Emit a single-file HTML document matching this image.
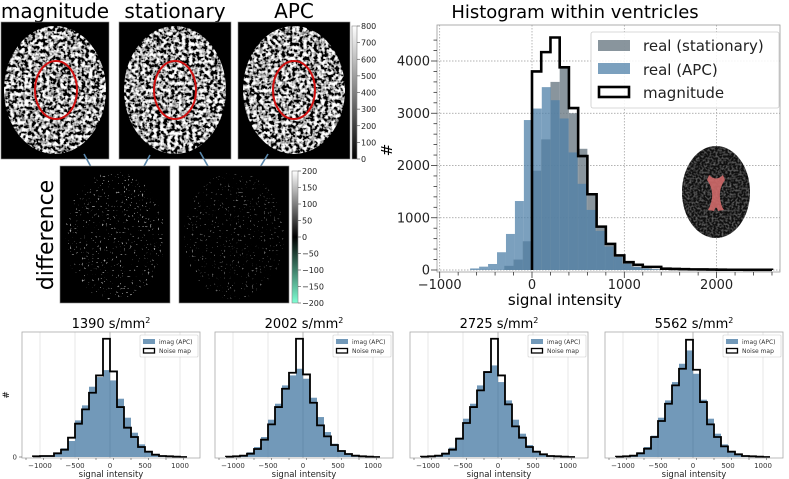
<!DOCTYPE html>
<html><head><meta charset="utf-8"><style>
html,body{margin:0;padding:0;background:#fff;}
svg{display:block;font-family:"DejaVu Sans","Liberation Sans",sans-serif;}
</style></head><body>
<svg id="fig" width="789" height="479" viewBox="0 0 789 479" xmlns="http://www.w3.org/2000/svg">
<defs>
<filter id="brainTex" x="0" y="0" width="100%" height="100%">
<feTurbulence type="fractalNoise" baseFrequency="0.28" numOctaves="2" seed="3"/>
<feColorMatrix type="matrix" values="0.33 0.33 0.33 0 0  0.33 0.33 0.33 0 0  0.33 0.33 0.33 0 0  0 0 0 0 1"/>
<feComponentTransfer><feFuncR type="linear" slope="7" intercept="-3.1"/><feFuncG type="linear" slope="7" intercept="-3.1"/><feFuncB type="linear" slope="7" intercept="-3.1"/></feComponentTransfer>
</filter>
<filter id="insetTex" x="0" y="0" width="100%" height="100%">
<feTurbulence type="fractalNoise" baseFrequency="0.5" numOctaves="1" seed="5"/>
<feColorMatrix type="matrix" values="0.33 0.33 0.33 0 0  0.33 0.33 0.33 0 0  0.33 0.33 0.33 0 0  0 0 0 0 1"/>
<feComponentTransfer><feFuncR type="linear" slope="4" intercept="-1.9"/><feFuncG type="linear" slope="4" intercept="-1.9"/><feFuncB type="linear" slope="4" intercept="-1.9"/></feComponentTransfer>
</filter>
<filter id="diffTex" x="0" y="0" width="100%" height="100%">
<feTurbulence type="fractalNoise" baseFrequency="0.5" numOctaves="1" seed="7"/>
<feColorMatrix type="matrix" values="0.33 0.33 0.33 0 0  0.33 0.33 0.33 0 0  0.33 0.33 0.33 0 0  0 0 0 0 1"/>
<feComponentTransfer><feFuncR type="linear" slope="6" intercept="-3.5"/><feFuncG type="linear" slope="6" intercept="-3.5"/><feFuncB type="linear" slope="6" intercept="-3.5"/></feComponentTransfer>
</filter>
<linearGradient id="cbGray" x1="0" y1="1" x2="0" y2="0"><stop offset="0" stop-color="#000"/><stop offset="1" stop-color="#fff"/></linearGradient>
<linearGradient id="cbDiff" x1="0" y1="1" x2="0" y2="0"><stop offset="0" stop-color="#7fffd4"/><stop offset="0.5" stop-color="#000"/><stop offset="1" stop-color="#fff"/></linearGradient>
<clipPath id="cB1"><ellipse cx="55" cy="90" rx="51" ry="64"/></clipPath>
<clipPath id="cB2"><ellipse cx="175" cy="90" rx="51" ry="64"/></clipPath>
<clipPath id="cB3"><ellipse cx="294" cy="90" rx="51" ry="64"/></clipPath>
<clipPath id="cD1"><ellipse cx="115" cy="236" rx="50" ry="64"/></clipPath>
<clipPath id="cD2"><ellipse cx="234" cy="236" rx="50" ry="64"/></clipPath>
<clipPath id="cIn"><ellipse cx="716" cy="192" rx="34" ry="46"/></clipPath>
</defs>

<g font-size="20" text-anchor="middle" fill="#000">
<text x="55" y="18">magnitude</text>
<text x="175" y="18">stationary</text>
<text x="294" y="18">APC</text>
</g>
<g>
<rect x="1" y="22" width="108" height="137" fill="#000" stroke="#888" stroke-width="0.6"/>
<rect x="1" y="22" width="108" height="137" filter="url(#brainTex)" clip-path="url(#cB1)"/>
<ellipse cx="56" cy="90" rx="21" ry="29" fill="none" stroke="#d01010" stroke-width="2"/>
</g>
<g>
<rect x="119" y="22" width="112" height="137" fill="#000" stroke="#888" stroke-width="0.6"/>
<rect x="119" y="22" width="112" height="137" filter="url(#brainTex)" clip-path="url(#cB2)"/>
<ellipse cx="175" cy="90" rx="21" ry="29" fill="none" stroke="#d01010" stroke-width="2"/>
</g>
<g>
<rect x="238" y="22" width="112" height="137" fill="#000" stroke="#888" stroke-width="0.6"/>
<rect x="238" y="22" width="112" height="137" filter="url(#brainTex)" clip-path="url(#cB3)"/>
<ellipse cx="294" cy="90" rx="21" ry="29" fill="none" stroke="#d01010" stroke-width="2"/>
</g>
<g>
<rect x="352" y="26" width="5" height="133" fill="url(#cbGray)" stroke="#888" stroke-width="0.6"/>
<g id="cb1ticks" font-size="8" fill="#222"></g>
</g>

<g stroke="#5a87ab" stroke-width="1.6">
<line x1="84" y1="154" x2="97" y2="178"/><line x1="150" y1="155" x2="136" y2="181"/>
<line x1="200" y1="152" x2="214" y2="177"/><line x1="268" y1="154" x2="253" y2="179"/>
</g>

<text x="0" y="0" transform="translate(53,235) rotate(-90)" font-size="22" text-anchor="middle">difference</text>
<g>
<rect x="60" y="166" width="110" height="137" fill="#000" stroke="#888" stroke-width="0.6"/>
<rect x="60" y="166" width="110" height="137" filter="url(#diffTex)" clip-path="url(#cD1)" opacity="0.8"/>
</g>
<g>
<rect x="179" y="166" width="110" height="137" fill="#000" stroke="#888" stroke-width="0.6"/>
<rect x="179" y="166" width="110" height="137" filter="url(#diffTex)" clip-path="url(#cD2)" opacity="0.55"/>
</g>
<g>
<rect x="292" y="171" width="6" height="132" fill="url(#cbDiff)" stroke="#888" stroke-width="0.6"/>
<g id="cb2ticks" font-size="8" fill="#222"></g>
</g>

<g id="mainChart"></g>
<g id="smallCharts"></g>
</svg>
<script>
const NS='http://www.w3.org/2000/svg';
function mk(tag,attrs,parent){const e=document.createElementNS(NS,tag);for(const k in attrs)e.setAttribute(k,attrs[k]);if(parent)parent.appendChild(e);return e;}

const cb1Labels=[0,100,200,300,400,500,600,700,800];
const cb2Labels=[200,150,100,50,0,-50,-100,-150,-200];
(function(){
const g=document.getElementById('cb1ticks');
cb1Labels.forEach(v=>{const y=159-v/800*133;mk('line',{x1:357,x2:360,y1:y,y2:y,stroke:'#444','stroke-width':0.6},g);const t=mk('text',{x:361,y:y+3},g);t.textContent=v;});
const g2=document.getElementById('cb2ticks');
cb2Labels.forEach(v=>{const y=237-v/200*66;mk('line',{x1:298,x2:301,y1:y,y2:y,stroke:'#444','stroke-width':0.6},g2);const t=mk('text',{x:302,y:y+3},g2);t.textContent=(v<0?'\u2212'+(-v):v);});
})();

// ===== Main histogram data =====
const magEdgesStart=0, binW=100;
const magCounts=[3800,4170,4450,3880,3100,2180,1450,830,500,280,150,100,60,60,25,20,15,12,10,8,6,5,5,4,3,3];
const apcStart=-670, apcW=97;
const apcCounts=[30,64,115,340,690,1320,2870,3090,3500,3250,2900,2250,1650,1150,750,450,250,120,60,30,15,8];
const statStart=-300, statW=100;
const statCounts=[80,200,550,1900,2500,3600,3880,3000,2320,1450,830,480,260,130,60,30,15,8];
const mainXTicks=[-1000,0,1000,2000];
const mainYTicks=[0,1000,2000,3000,4000];

(function(){
const g=document.getElementById('mainChart');
const X=v=>532+v*0.0923, Y=v=>270-v*0.05225;
const L=437,R=780,T=25,B=272;
mk('rect',{x:L,y:T,width:R-L,height:B-T,fill:'#fff'},g);
mainXTicks.forEach(v=>mk('line',{x1:X(v),x2:X(v),y1:T,y2:B,stroke:'#999','stroke-width':0.7,'stroke-dasharray':'1.5,1.5'},g));
mainYTicks.forEach(v=>mk('line',{x1:L,x2:R,y1:Y(v),y2:Y(v),stroke:'#999','stroke-width':0.7,'stroke-dasharray':'1.5,1.5'},g));
statCounts.forEach((c,i)=>{const x0=X(statStart+i*statW),x1=X(statStart+(i+1)*statW);
const r=mk('rect',{x:x0,y:Y(c),width:x1-x0,height:Y(0)-Y(c),fill:'#6b7a84','fill-opacity':0.8},g);
});
apcCounts.forEach((c,i)=>{const x0=X(apcStart+i*apcW),x1=X(apcStart+(i+1)*apcW);
const r=mk('rect',{x:x0,y:Y(c),width:x1-x0,height:Y(0)-Y(c),fill:'#4f80a8','fill-opacity':0.75},g);
});
let d='M'+X(magEdgesStart)+','+Y(0);
magCounts.forEach((c,i)=>{d+=' L'+X(magEdgesStart+i*binW)+','+Y(c)+' L'+X(magEdgesStart+(i+1)*binW)+','+Y(c);});
d+=' L'+X(magEdgesStart+magCounts.length*binW)+','+Y(0);
const p=mk('path',{d:d,fill:'none',stroke:'#000','stroke-width':2.6},g);

mk('rect',{x:L,y:T,width:R-L,height:B-T,fill:'none',stroke:'#999','stroke-width':0.8},g);
for(let v=-1000;v<=2600;v+=200){const big=v%1000===0;mk('line',{x1:X(v),x2:X(v),y1:B,y2:B+(big?6:3.5),stroke:'#333','stroke-width':0.8},g);}
for(let v=0;v<=4400;v+=200){const big=v%1000===0;mk('line',{x1:L,x2:L-(big?6:3.5),y1:Y(v),y2:Y(v),stroke:'#333','stroke-width':0.8},g);}
mainXTicks.forEach(v=>{const t=mk('text',{x:X(v),y:289,'font-size':13,'text-anchor':'middle',fill:'#222'},g);t.textContent=v<0?'\u2212'+(-v):v;});
mainYTicks.forEach(v=>{const t=mk('text',{x:430,y:Y(v)+4.5,'font-size':13,'text-anchor':'end',fill:'#222'},g);t.textContent=v;});
let t=mk('text',{x:565,y:305,'font-size':15,'text-anchor':'middle'},g);t.textContent='signal intensity';
t=mk('text',{x:0,y:0,transform:'translate(392,150) rotate(-90)','font-size':15,'text-anchor':'middle'},g);t.textContent='#';
t=mk('text',{x:575,y:18,'font-size':18,'text-anchor':'middle'},g);t.textContent='Histogram within ventricles';
const lg=mk('g',{},g);
mk('rect',{x:591,y:32,width:188,height:76,fill:'#fff','fill-opacity':0.85,stroke:'#ccc','stroke-width':0.8,rx:2},lg);
mk('rect',{x:598,y:40,width:32,height:11,fill:'#6b7a84','fill-opacity':0.8},lg);
mk('rect',{x:598,y:63,width:32,height:11,fill:'#4f80a8','fill-opacity':0.75},lg);
mk('rect',{x:599,y:87,width:30,height:10,fill:'none',stroke:'#000','stroke-width':2.6},lg);
[['real (stationary)',51],['real (APC)',75],['magnitude',98]].forEach(a=>{const tt=mk('text',{x:643,y:a[1],'font-size':15,fill:'#222'},lg);tt.textContent=a[0];});
const ib=mk('g',{},g);
mk('ellipse',{cx:716,cy:192,rx:34,ry:46,fill:'#1a1a1a'},ib);
mk('rect',{x:682,y:146,width:68,height:92,filter:'url(#insetTex)','clip-path':'url(#cIn)',opacity:0.35},ib);
mk('path',{d:'M709,175 Q716,182 723,175 L725,180 Q719,188 720,198 Q721,206 724,210 L718,211 Q716,204 714,211 L708,210 Q711,205 712,198 Q713,188 707,180 Z',fill:'#d06a6a','fill-opacity':0.9},ib);
})();

// ===== Small histograms =====
const smallTitles=['1390','2002','2725','5562'];
const smallXTicks=[-1000,-500,0,500,1000];
const smallStart=-1100;
const noise1=[2,3,3,11,22,58,100,143,193,245,355,257,150,88,60,30,16,7,3,2,1,0];
const apc1=[1,2,4,12,26,48,110,155,211,240,261,230,175,118,73,38,18,8,4,2,1,0];
const noise2=[1,2,4,10,24,52,98,150,205,253,355,248,163,95,62,36,18,9,4,2,1,0];
const apc2=[1,2,5,14,30,60,112,160,215,245,265,235,178,120,75,40,20,9,4,2,1,0];
const noise3=[1,2,4,10,22,55,102,150,200,255,355,245,158,92,58,30,16,8,3,2,1,0];
const apc3=[1,2,5,13,28,58,115,160,215,258,275,225,170,112,70,36,18,8,4,2,1,0];
const noise4=[1,2,4,11,25,60,108,160,215,265,352,262,165,98,60,32,16,8,3,2,1,0];
const apc4=[1,2,5,14,30,64,118,170,225,280,320,250,172,115,70,38,18,8,4,2,1,0];
const smallNoise=[noise1,noise2,noise3,noise4];
const smallApc=[apc1,apc2,apc3,apc4];
const panelLefts=[22,215,410,605];

(function(){
const root=document.getElementById('smallCharts');
panelLefts.forEach((L,pi)=>{
const g=mk('g',{},root);
const W=178,T=332,B=458;
const X=v=>L+88+v*0.07, Y=v=>457-v*0.333;
smallXTicks.forEach(v=>mk('line',{x1:X(v),x2:X(v),y1:T,y2:B,stroke:v===0?'#999':'#ddd','stroke-width':0.7},g));
smallApc[pi].forEach((c,i)=>{const x0=X(smallStart+i*100),x1=X(smallStart+(i+1)*100);
const r=mk('rect',{x:x0,y:Y(c),width:x1-x0,height:Y(0)-Y(c),fill:'#4f80a8','fill-opacity':0.8},g);
});
const nz=smallNoise[pi];let d='M'+X(smallStart)+','+Y(0);
nz.forEach((c,i)=>{d+=' L'+X(smallStart+i*100)+','+Y(c)+' L'+X(smallStart+(i+1)*100)+','+Y(c);});
d+=' L'+X(smallStart+nz.length*100)+','+Y(0);
const p=mk('path',{d:d,fill:'none',stroke:'#000','stroke-width':1.8},g);

mk('rect',{x:L,y:T,width:W,height:B-T,fill:'none',stroke:'#aaa','stroke-width':0.8},g);
for(let v=-1200;v<=1200;v+=250){const x=X(v);if(x<L||x>L+W)continue;mk('line',{x1:x,x2:x,y1:B,y2:B+(v%500===0?3.5:2),stroke:'#555','stroke-width':0.6},g);}
smallXTicks.forEach(v=>{const t=mk('text',{x:X(v),y:468,'font-size':7,'text-anchor':'middle',fill:'#333'},g);t.textContent=v<0?'\u2212'+(-v):v;});
let t=mk('text',{x:L+89,y:477,'font-size':8.5,'text-anchor':'middle',fill:'#222'},g);t.textContent='signal intensity';
t=mk('text',{x:L+89,y:328,'font-size':13,'text-anchor':'middle',fill:'#000'},g);
t.appendChild(document.createTextNode(smallTitles[pi]+' s/mm'));const s=mk('tspan',{dy:-5,'font-size':8},t);s.textContent='2';
if(pi===0){mk('line',{x1:L,x2:L-3,y1:Y(0),y2:Y(0),stroke:'#555','stroke-width':0.6},g);
t=mk('text',{x:L-5,y:Y(0)+2.5,'font-size':7,'text-anchor':'end',fill:'#333'},g);t.textContent='0';
t=mk('text',{x:0,y:0,transform:'translate('+(L-13)+',395) rotate(-90)','font-size':9,'text-anchor':'middle'},g);t.textContent='#';}
const lg=mk('g',{},g);
mk('rect',{x:L+118,y:335,width:58,height:22,fill:'#fff','fill-opacity':0.85,stroke:'#ccc','stroke-width':0.6,rx:1},lg);
mk('rect',{x:L+121,y:339,width:12,height:5,fill:'#4f80a8','fill-opacity':0.8},lg);
mk('rect',{x:L+121.5,y:348.5,width:11,height:4.5,fill:'none',stroke:'#000','stroke-width':1.3},lg);
t=mk('text',{x:L+137,y:344,'font-size':6,fill:'#333'},lg);t.textContent='imag (APC)';
t=mk('text',{x:L+137,y:353,'font-size':6,fill:'#333'},lg);t.textContent='Noise map';
});
})();
</script>
</body></html>
